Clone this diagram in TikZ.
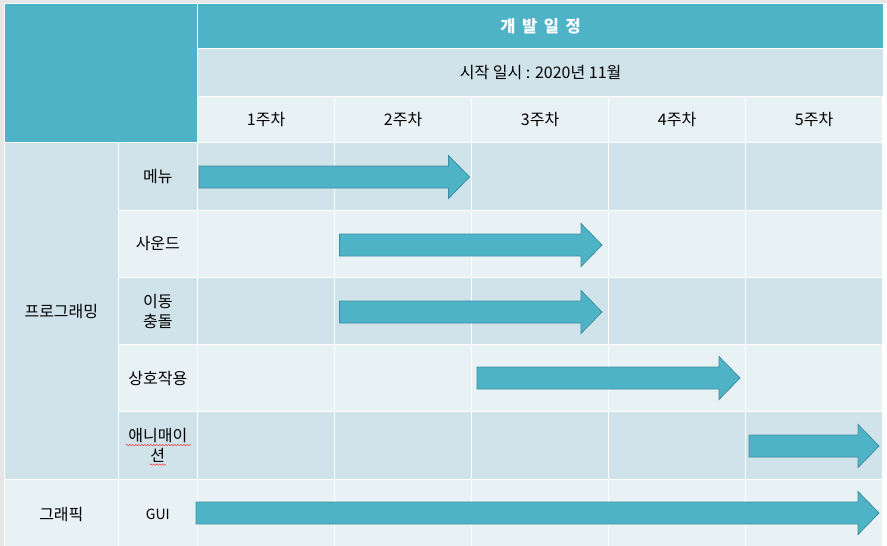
\documentclass[tikz,border=0pt]{standalone}
\usepackage{fontspec}
\setmainfont{Noto Sans CJK KR}
\usepackage{tikz}
\usetikzlibrary{decorations.pathmorphing}
\definecolor{hdrteal}{HTML}{4FB3C8}
\definecolor{rowdark}{HTML}{D0E3EA}
\definecolor{rowlight}{HTML}{E8F1F4}
\definecolor{barfill}{HTML}{4FB3C8}
\definecolor{barline}{HTML}{3E8E9F}
\definecolor{bggray}{HTML}{E6E6E6}
\newcommand{\taskarrow}[3]{\draw[taskbar] (#1,#3-11) -- (#2-21,#3-11) -- (#2-21,#3-21.5) -- (#2,#3) -- (#2-21,#3+21.5) -- (#2-21,#3+11) -- (#1,#3+11) -- cycle;}

\begin{document}
\begin{tikzpicture}[x=1pt, y=-1pt, every node/.style={font=\fontsize{16}{20}\selectfont}, cell/.style={draw=white, line width=1.2pt, anchor=north west, inner sep=0pt, align=center}, darkcell/.style={cell, fill=rowdark}, lightcell/.style={cell, fill=rowlight}, taskbar/.style={fill=barfill, draw=barline, line width=0.8pt}, squiggle/.style={draw=red!80!white, line width=0.5pt, decorate, decoration={snake, amplitude=0.7pt, segment length=3pt}}]
\useasboundingbox (0,0) rectangle (887,546);
\fill[bggray] (0,0) rectangle (887,546);
\fill[white!95!bggray] (883,3) rectangle (887,546);
\node[cell, fill=hdrteal, minimum width=193pt, minimum height=139pt] (corner) at (4,3) {};
\node[cell, fill=hdrteal, minimum width=686pt, minimum height=45pt, text=white, font=\bfseries\fontsize{16.5}{20}\selectfont] (title) at (197,3) {개\,\ 발\,\ 일\,\ 정};
\node[darkcell, minimum width=686pt, minimum height=48pt] (start) at (197,48) {시작 일시 : 2020년 11월};
\foreach \w in {1,...,5} \node[lightcell, minimum width=137pt, minimum height=46pt] (wk\w) at (60+137*\w,96) {\w{}주차};
\foreach \y/\h/\s [count=\r] in {142/67.5/darkcell, 209.5/67.5/lightcell, 277/67/darkcell, 344/67/lightcell, 411/68/darkcell, 479/69/lightcell}
  \foreach \w in {0,...,4} \node[\s, minimum width=137pt, minimum height=\h pt] (c\r\w) at (197+137*\w,\y) {};
\node[darkcell, minimum width=113.5pt, minimum height=337pt] (prog) at (4,142) {프로그래밍};
\node[lightcell, minimum width=113.5pt, minimum height=69pt] (gfx) at (4,479) {그래픽};
\node[darkcell, minimum width=79.5pt, minimum height=67.5pt] (menu) at (117.5,142) {메뉴};
\node[lightcell, minimum width=79.5pt, minimum height=67.5pt] (sound) at (117.5,209.5) {사운드};
\node[darkcell, minimum width=79.5pt, minimum height=67pt] (move) at (117.5,277) {이동\\충돌};
\node[lightcell, minimum width=79.5pt, minimum height=67pt] (act) at (117.5,344) {상호작용};
\node[darkcell, minimum width=79.5pt, minimum height=68pt] (anim) at (117.5,411) {애니매이\\션};
\node[lightcell, minimum width=79.5pt, minimum height=69pt, font=\fontsize{14}{17}\selectfont] (gui) at (117.5,479) {GUI};
\draw[squiggle] ([shift={(-32,-0.5)}]anim.center) -- ([shift={(33,-0.5)}]anim.center);
\draw[squiggle] ([shift={(-8,19)}]anim.center) -- ([shift={(8,19)}]anim.center);
\taskarrow{199}{469.5}{177}
\taskarrow{339.5}{602}{245}
\taskarrow{339.5}{602}{312}
\taskarrow{477}{740}{378}
\taskarrow{749}{879}{446}
\taskarrow{196}{879}{513}
\end{tikzpicture}
\end{document}
